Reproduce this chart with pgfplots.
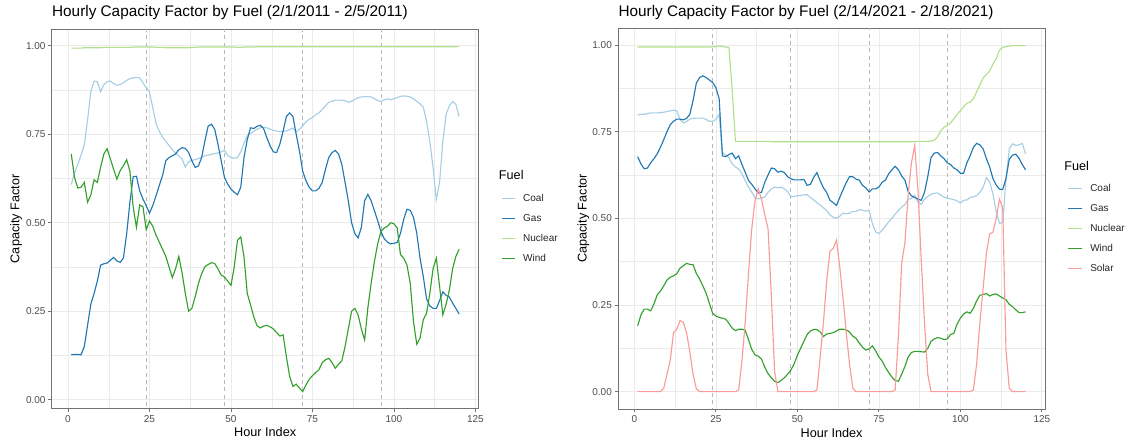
\documentclass[border=0pt]{standalone}
\usepackage{fontspec}
\setmainfont{Liberation Sans}
\usepackage{pgfplots}
\usepackage{pgfplotstable}
\pgfplotsset{compat=1.18}

\definecolor{coal}{HTML}{A6CEE3}
\definecolor{gas}{HTML}{1F78B4}
\definecolor{nuc}{HTML}{B2DF8A}
\definecolor{wind}{HTML}{33A02C}
\definecolor{solar}{HTML}{FB9A99}
\definecolor{gridc}{HTML}{EBEBEB}

% hour, coal, gas, nuclear, wind (2/1/2011 - 2/5/2011)
\pgfplotstableread{
h coal gas nuc wind
1 0.608 0.127 0.993 0.694
2 0.640 0.128 0.993 0.628
3 0.665 0.128 0.993 0.598
4 0.690 0.127 0.993 0.600
5 0.720 0.150 0.994 0.614
6 0.790 0.210 0.994 0.558
7 0.870 0.270 0.994 0.578
8 0.900 0.300 0.994 0.621
9 0.898 0.335 0.994 0.614
10 0.870 0.380 0.994 0.656
11 0.890 0.384 0.995 0.694
12 0.898 0.386 0.995 0.709
13 0.900 0.394 0.995 0.680
14 0.893 0.402 0.995 0.651
15 0.888 0.392 0.995 0.623
16 0.890 0.388 0.995 0.647
17 0.895 0.400 0.995 0.661
18 0.902 0.469 0.995 0.678
19 0.907 0.558 0.995 0.645
20 0.909 0.630 0.996 0.544
21 0.910 0.631 0.996 0.487
22 0.909 0.590 0.996 0.550
23 0.895 0.567 0.996 0.545
24 0.882 0.548 0.996 0.480
25 0.870 0.527 0.996 0.505
26 0.825 0.548 0.996 0.490
27 0.780 0.576 0.995 0.465
28 0.758 0.605 0.995 0.445
29 0.742 0.633 0.995 0.425
30 0.730 0.675 0.994 0.405
31 0.718 0.684 0.994 0.375
32 0.706 0.689 0.994 0.345
33 0.697 0.694 0.994 0.370
34 0.688 0.706 0.994 0.405
35 0.680 0.712 0.994 0.358
36 0.657 0.710 0.994 0.300
37 0.672 0.698 0.994 0.250
38 0.676 0.675 0.995 0.258
39 0.678 0.656 0.995 0.290
40 0.681 0.660 0.996 0.328
41 0.685 0.684 0.996 0.356
42 0.689 0.731 0.996 0.376
43 0.691 0.773 0.996 0.382
44 0.693 0.778 0.996 0.387
45 0.695 0.764 0.996 0.385
46 0.697 0.722 0.996 0.370
47 0.700 0.675 0.996 0.352
48 0.705 0.628 0.996 0.347
49 0.690 0.609 0.996 0.335
50 0.684 0.595 0.996 0.323
51 0.682 0.586 0.996 0.375
52 0.684 0.579 0.995 0.450
53 0.700 0.600 0.995 0.460
54 0.725 0.684 0.996 0.403
55 0.745 0.735 0.996 0.300
56 0.752 0.768 0.996 0.268
57 0.758 0.766 0.996 0.234
58 0.764 0.772 0.997 0.209
59 0.768 0.775 0.997 0.203
60 0.770 0.766 0.997 0.208
61 0.768 0.740 0.997 0.210
62 0.764 0.717 0.997 0.206
63 0.761 0.700 0.997 0.200
64 0.759 0.698 0.997 0.190
65 0.757 0.722 0.997 0.180
66 0.758 0.759 0.997 0.183
67 0.759 0.800 0.997 0.122
68 0.763 0.810 0.997 0.066
69 0.767 0.800 0.997 0.038
70 0.756 0.750 0.997 0.044
71 0.764 0.703 0.997 0.033
72 0.773 0.645 0.997 0.023
73 0.785 0.619 0.997 0.042
74 0.792 0.600 0.997 0.058
75 0.797 0.590 0.997 0.068
76 0.805 0.590 0.997 0.077
77 0.810 0.597 0.997 0.085
78 0.820 0.614 0.997 0.105
79 0.830 0.651 0.997 0.113
80 0.840 0.684 0.997 0.117
81 0.843 0.698 0.997 0.105
82 0.846 0.704 0.997 0.089
83 0.846 0.694 0.997 0.100
84 0.846 0.665 0.997 0.110
85 0.845 0.614 0.997 0.150
86 0.840 0.562 0.997 0.200
87 0.843 0.500 0.997 0.250
88 0.848 0.469 0.997 0.258
89 0.853 0.457 0.997 0.240
90 0.855 0.487 0.997 0.200
91 0.856 0.562 0.997 0.169
92 0.856 0.580 0.997 0.260
93 0.855 0.562 0.997 0.329
94 0.850 0.534 0.997 0.390
95 0.845 0.506 0.997 0.440
96 0.842 0.475 0.997 0.475
97 0.847 0.455 0.997 0.485
98 0.850 0.445 0.997 0.490
99 0.847 0.440 0.997 0.500
100 0.850 0.442 0.997 0.497
101 0.853 0.444 0.997 0.485
102 0.857 0.470 0.997 0.410
103 0.858 0.510 0.997 0.400
104 0.857 0.538 0.997 0.380
105 0.855 0.535 0.997 0.329
106 0.850 0.515 0.997 0.220
107 0.843 0.470 0.997 0.157
108 0.836 0.400 0.997 0.174
109 0.826 0.348 0.997 0.226
110 0.787 0.285 0.997 0.244
111 0.730 0.265 0.997 0.300
112 0.656 0.258 0.997 0.370
113 0.565 0.258 0.997 0.400
114 0.614 0.280 0.997 0.320
115 0.730 0.305 0.997 0.240
116 0.806 0.295 0.997 0.270
117 0.830 0.290 0.997 0.310
118 0.842 0.273 0.997 0.370
119 0.834 0.258 0.997 0.405
120 0.800 0.242 0.998 0.425
}\lefttab

% hour, coal, gas, nuclear, wind, solar (2/14/2021 - 2/18/2021)
\pgfplotstableread{
h coal gas nuc wind solar
1 0.798 0.678 0.994 0.190 0
2 0.800 0.657 0.994 0.221 0
3 0.800 0.643 0.994 0.238 0
4 0.802 0.645 0.994 0.238 0
5 0.804 0.660 0.994 0.233 0
6 0.804 0.672 0.994 0.253 0
7 0.804 0.686 0.994 0.279 0
8 0.805 0.705 0.994 0.290 0
9 0.806 0.727 0.994 0.305 0.010
10 0.808 0.750 0.994 0.322 0.050
11 0.810 0.770 0.994 0.330 0.090
12 0.812 0.780 0.994 0.334 0.170
13 0.810 0.786 0.994 0.340 0.180
14 0.785 0.786 0.994 0.356 0.205
15 0.775 0.784 0.994 0.363 0.200
16 0.779 0.788 0.994 0.370 0.170
17 0.786 0.800 0.994 0.367 0.115
18 0.788 0.840 0.994 0.366 0.050
19 0.789 0.890 0.994 0.341 0.008
20 0.789 0.906 0.994 0.325 0
21 0.789 0.911 0.994 0.305 0
22 0.785 0.906 0.994 0.284 0
23 0.780 0.899 0.994 0.255 0
24 0.780 0.892 0.995 0.226 0
25 0.785 0.877 0.995 0.218 0
26 0.800 0.845 0.997 0.214 0
27 0.690 0.680 0.996 0.212 0
28 0.682 0.678 0.994 0.209 0
29 0.675 0.684 0.993 0.197 0
30 0.657 0.688 0.870 0.183 0
31 0.648 0.672 0.722 0.176 0
32 0.642 0.680 0.722 0.180 0.005
33 0.628 0.655 0.722 0.180 0.090
34 0.609 0.633 0.722 0.177 0.200
35 0.590 0.609 0.722 0.150 0.340
36 0.575 0.598 0.722 0.122 0.470
37 0.560 0.585 0.722 0.106 0.550
38 0.556 0.573 0.722 0.102 0.585
39 0.558 0.575 0.722 0.094 0.555
40 0.562 0.604 0.722 0.070 0.510
41 0.575 0.625 0.722 0.052 0.470
42 0.585 0.645 0.721 0.040 0.280
43 0.590 0.643 0.721 0.030 0.060
44 0.588 0.633 0.721 0.026 0
45 0.590 0.636 0.721 0.032 0
46 0.585 0.632 0.721 0.040 0
47 0.577 0.620 0.721 0.050 0
48 0.563 0.614 0.721 0.062 0
49 0.563 0.611 0.721 0.080 0
50 0.565 0.611 0.721 0.105 0
51 0.566 0.611 0.721 0.125 0
52 0.568 0.612 0.721 0.145 0
53 0.568 0.595 0.721 0.165 0
54 0.560 0.598 0.721 0.175 0
55 0.553 0.618 0.721 0.179 0
56 0.545 0.632 0.721 0.179 0.005
57 0.538 0.608 0.721 0.172 0.100
58 0.530 0.588 0.721 0.159 0.200
59 0.522 0.574 0.721 0.166 0.320
60 0.510 0.552 0.721 0.168 0.405
61 0.503 0.545 0.721 0.170 0.413
62 0.500 0.537 0.721 0.175 0.437
63 0.506 0.560 0.721 0.180 0.360
64 0.515 0.582 0.721 0.180 0.270
65 0.513 0.603 0.721 0.178 0.170
66 0.515 0.620 0.721 0.172 0.080
67 0.520 0.620 0.721 0.160 0.010
68 0.520 0.613 0.721 0.154 0
69 0.525 0.610 0.721 0.140 0
70 0.523 0.595 0.721 0.128 0
71 0.521 0.588 0.721 0.120 0
72 0.523 0.576 0.721 0.123 0
73 0.485 0.585 0.721 0.132 0
74 0.461 0.585 0.721 0.118 0
75 0.456 0.590 0.721 0.100 0
76 0.466 0.604 0.721 0.088 0
77 0.477 0.610 0.721 0.070 0
78 0.490 0.628 0.721 0.055 0
79 0.500 0.640 0.721 0.042 0
80 0.512 0.650 0.721 0.032 0.005
81 0.523 0.640 0.721 0.030 0.160
82 0.532 0.622 0.721 0.050 0.370
83 0.540 0.610 0.721 0.073 0.430
84 0.555 0.577 0.721 0.100 0.570
85 0.557 0.565 0.721 0.113 0.660
86 0.566 0.560 0.721 0.116 0.710
87 0.547 0.555 0.722 0.116 0.580
88 0.540 0.552 0.722 0.115 0.380
89 0.555 0.575 0.722 0.114 0.200
90 0.563 0.620 0.722 0.125 0.050
91 0.569 0.675 0.723 0.145 0
92 0.572 0.688 0.725 0.152 0
93 0.573 0.690 0.735 0.156 0
94 0.567 0.680 0.752 0.154 0
95 0.561 0.672 0.763 0.150 0
96 0.558 0.660 0.768 0.152 0
97 0.556 0.655 0.775 0.165 0
98 0.554 0.645 0.787 0.168 0
99 0.550 0.640 0.800 0.195 0
100 0.544 0.630 0.810 0.212 0
101 0.552 0.630 0.822 0.224 0
102 0.553 0.660 0.832 0.230 0
103 0.560 0.680 0.835 0.226 0
104 0.562 0.705 0.845 0.240 0.005
105 0.565 0.716 0.865 0.262 0.080
106 0.575 0.712 0.885 0.278 0.200
107 0.590 0.700 0.905 0.280 0.300
108 0.617 0.672 0.915 0.283 0.400
109 0.605 0.648 0.925 0.276 0.455
110 0.570 0.615 0.945 0.280 0.460
111 0.520 0.596 0.960 0.282 0.500
112 0.485 0.584 0.985 0.276 0.555
113 0.488 0.583 0.993 0.270 0.530
114 0.610 0.615 0.995 0.265 0.120
115 0.700 0.670 0.997 0.252 0.010
116 0.715 0.682 0.998 0.245 0
117 0.710 0.685 0.998 0.236 0
118 0.712 0.673 0.998 0.228 0
119 0.716 0.655 0.998 0.228 0
120 0.686 0.640 0.998 0.230 0
}\righttab

\pgfplotsset{
  cf/.style={
    scale only axis, width=320pt,
    xmin=-4.95, xmax=125.95,
    xtick={0,25,50,75,100,125}, ytick={0,0.25,0.5,0.75,1},
    minor x tick num=1, minor y tick num=1,
    grid=both,
    major grid style={gridc, line width=0.55pt},
    minor grid style={gridc, line width=0.3pt},
    axis line style={black!55, line width=0.6pt},
    tick align=outside, xtick pos=lower, ytick pos=left,
    major tick length=2.6pt, minor tick length=0pt,
    tick style={black!55, line width=0.6pt},
    /pgf/number format/assume math mode=true,
    tick label style={font=\fontsize{7.5}{9}\selectfont, text=black!70, inner sep=0pt},
    yticklabel style={/pgf/number format/fixed, /pgf/number format/fixed zerofill,
      /pgf/number format/precision=2, anchor=east, xshift=-2pt},
    xticklabel style={anchor=north, yshift=-2.4pt},
    title style={at={(axis description cs:0,1)}, anchor=base west, inner sep=0pt,
      font=\fontsize{11.5}{13}\selectfont},
    xlabel style={at={(axis description cs:0.5,0)}, anchor=base, yshift=-21.5pt,
      inner sep=0pt, font=\fontsize{9.5}{11}\selectfont},
    ylabel style={at={(axis description cs:-0.0836,0.5)}, anchor=center, rotate=0,
      inner sep=0pt, font=\fontsize{9.5}{11}\selectfont},
    xlabel={Hour Index}, ylabel={Capacity Factor},
  },
  ser/.style={line width=0.85pt, no markers},
  vl/.style={black!28, line width=0.6pt, dash pattern=on 3pt off 2.5pt},
}

\begin{document}
\begin{tikzpicture}
  \useasboundingbox (0,0) rectangle (849pt,-334.5pt);

  \begin{axis}[cf, at={(38.9pt,-22pt)}, anchor=north west, height=284.2pt,
      ymin=-0.024, ymax=1.046,
      title style={yshift=3.6pt},
      title={Hourly Capacity Factor by Fuel (2/1/2011 - 2/5/2011)}]
    \addplot[vl] coordinates {(24,-0.1) (24,1.1)};
    \addplot[vl] coordinates {(48,-0.1) (48,1.1)};
    \addplot[vl] coordinates {(72,-0.1) (72,1.1)};
    \addplot[vl] coordinates {(96,-0.1) (96,1.1)};
    \addplot[ser, coal] table[x=h, y=coal] {\lefttab};
    \addplot[ser, gas] table[x=h, y=gas] {\lefttab};
    \addplot[ser, nuc] table[x=h, y=nuc] {\lefttab};
    \addplot[ser, wind] table[x=h, y=wind] {\lefttab};
  \end{axis}

  \begin{axis}[cf, at={(463.7pt,-21pt)}, anchor=north west, height=285.7pt,
      ymin=-0.05, ymax=1.049,
      title style={yshift=2.6pt},
      ylabel style={at={(axis description cs:-0.082,0.5)}},
      title={Hourly Capacity Factor by Fuel (2/14/2021 - 2/18/2021)}]
    \addplot[vl] coordinates {(24,-0.1) (24,1.1)};
    \addplot[vl] coordinates {(48,-0.1) (48,1.1)};
    \addplot[vl] coordinates {(72,-0.1) (72,1.1)};
    \addplot[vl] coordinates {(96,-0.1) (96,1.1)};
    \addplot[ser, coal] table[x=h, y=coal] {\righttab};
    \addplot[ser, gas] table[x=h, y=gas] {\righttab};
    \addplot[ser, nuc] table[x=h, y=nuc] {\righttab};
    \addplot[ser, wind] table[x=h, y=wind] {\righttab};
    \addplot[ser, solar] table[x=h, y=solar] {\righttab};
  \end{axis}

  % legend, left panel
  \node[anchor=base west, inner sep=0pt, font=\fontsize{9.5}{11}\selectfont] at (374pt,-134.6pt) {Fuel};
  \draw[coal, line width=1pt] (376.7pt,-148.7pt) -- (386.3pt,-148.7pt);
  \draw[gas,  line width=1pt] (376.7pt,-163.7pt) -- (386.3pt,-163.7pt);
  \draw[nuc,  line width=1pt] (376.7pt,-178.7pt) -- (386.3pt,-178.7pt);
  \draw[wind, line width=1pt] (376.7pt,-193.7pt) -- (386.3pt,-193.7pt);
  \begin{scope}[every node/.style={anchor=base west, inner sep=0pt, font=\fontsize{7.5}{9}\selectfont, text=black!85}]
    \node at (392.2pt,-151.4pt) {Coal};
    \node at (392.2pt,-166.4pt) {Gas};
    \node at (392.2pt,-181.4pt) {Nuclear};
    \node at (392.2pt,-196.4pt) {Wind};
  \end{scope}

  % legend, right panel
  \node[anchor=base west, inner sep=0pt, font=\fontsize{9.5}{11}\selectfont] at (798pt,-127.7pt) {Fuel};
  \draw[coal,  line width=1pt] (801.2pt,-141.2pt) -- (811.3pt,-141.2pt);
  \draw[gas,   line width=1pt] (801.2pt,-156.2pt) -- (811.3pt,-156.2pt);
  \draw[nuc,   line width=1pt] (801.2pt,-171.2pt) -- (811.3pt,-171.2pt);
  \draw[wind,  line width=1pt] (801.2pt,-186.2pt) -- (811.3pt,-186.2pt);
  \draw[solar, line width=1pt] (801.2pt,-201.2pt) -- (811.3pt,-201.2pt);
  \begin{scope}[every node/.style={anchor=base west, inner sep=0pt, font=\fontsize{7.5}{9}\selectfont, text=black!85}]
    \node at (817.5pt,-143.9pt) {Coal};
    \node at (817.5pt,-158.9pt) {Gas};
    \node at (817.5pt,-173.9pt) {Nuclear};
    \node at (817.5pt,-188.9pt) {Wind};
    \node at (817.5pt,-203.9pt) {Solar};
  \end{scope}
\end{tikzpicture}
\end{document}
